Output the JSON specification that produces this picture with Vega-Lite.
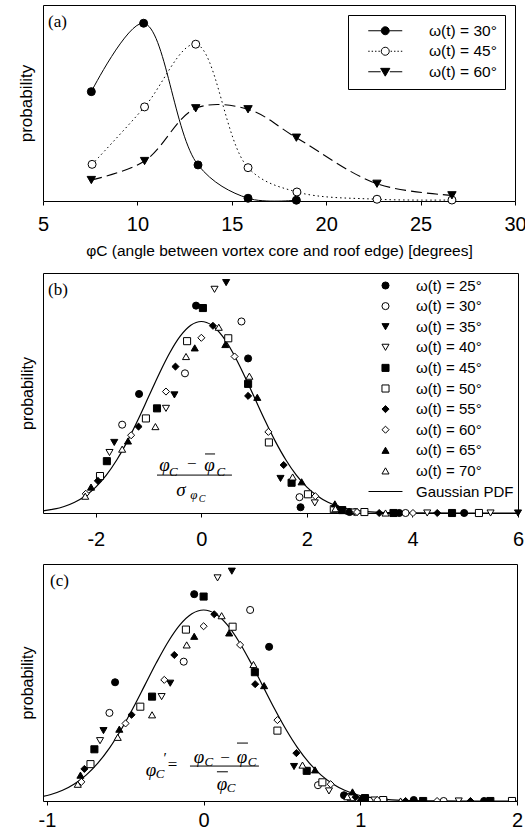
{
  "$schema": "https://vega.github.io/schema/vega-lite/v6.json",
  "padding": {"left": 16, "top": 4, "right": 0, "bottom": 0},
  "spacing": 13,
  "resolve": {"scale": {"shape": "independent", "fill": "independent", "stroke": "independent"}, "legend": {"shape": "independent", "fill": "independent", "stroke": "independent"}},
  "datasets": {
    "a": [
      {"s": "30", "x": 7.56, "p": 0.558}, {"s": "30", "x": 10.33, "p": 0.907}, {"s": "30", "x": 13.21, "p": 0.184}, {"s": "30", "x": 15.86, "p": 0.014}, {"s": "30", "x": 18.42, "p": 0.004},
      {"s": "45", "x": 7.6, "p": 0.187}, {"s": "45", "x": 10.38, "p": 0.48}, {"s": "45", "x": 13.09, "p": 0.8}, {"s": "45", "x": 15.86, "p": 0.17}, {"s": "45", "x": 18.45, "p": 0.046}, {"s": "45", "x": 22.69, "p": 0.009}, {"s": "45", "x": 26.66, "p": 0.005},
      {"s": "60", "x": 7.56, "p": 0.107}, {"s": "60", "x": 10.38, "p": 0.204}, {"s": "60", "x": 13.09, "p": 0.473}, {"s": "60", "x": 15.86, "p": 0.468}, {"s": "60", "x": 18.42, "p": 0.323}, {"s": "60", "x": 22.69, "p": 0.088}, {"s": "60", "x": 26.66, "p": 0.029}
    ],
    "pts": [
      {"s": "25", "xb": -1.18, "xc": -0.565, "p": 0.248}, {"s": "25", "xb": -0.1, "xc": -0.06, "p": 0.432}, {"s": "25", "xb": 0.886, "xc": 0.418, "p": 0.322}, {"s": "25", "xb": 1.88, "xc": 0.896, "p": 0.012}, {"s": "25", "xb": 2.81, "xc": 1.341, "p": 0.002}, {"s": "25", "xb": 3.75, "xc": 1.79, "p": 0.0}, {"s": "25", "xb": 4.98, "xc": null, "p": 0.0},
      {"s": "30", "xb": -1.5, "xc": -0.601, "p": 0.184}, {"s": "30", "xb": -0.31, "xc": -0.127, "p": 0.291}, {"s": "30", "xb": 0.76, "xc": 0.297, "p": 0.399}, {"s": "30", "xb": 1.86, "xc": 0.73, "p": 0.033}, {"s": "30", "xb": 2.92, "xc": 1.15, "p": 0.002}, {"s": "30", "xb": 3.87, "xc": 1.532, "p": 0.0},
      {"s": "35", "xb": -1.65, "xc": -0.639, "p": 0.147}, {"s": "35", "xb": -0.51, "xc": -0.213, "p": 0.246}, {"s": "35", "xb": 0.47, "xc": 0.18, "p": 0.48}, {"s": "35", "xb": 1.5, "xc": 0.577, "p": 0.072}, {"s": "35", "xb": 2.67, "xc": 1.03, "p": 0.006}, {"s": "35", "xb": 6.0, "xc": null, "p": 0.0},
      {"s": "40", "xb": -1.74, "xc": -0.661, "p": 0.126}, {"s": "40", "xb": -0.67, "xc": -0.268, "p": 0.218}, {"s": "40", "xb": 0.25, "xc": 0.089, "p": 0.466}, {"s": "40", "xb": 2.15, "xc": 0.8, "p": 0.021}, {"s": "40", "xb": 2.9, "xc": 1.09, "p": 0.002}, {"s": "40", "xb": 4.28, "xc": 1.628, "p": 0.0}, {"s": "40", "xb": 5.48, "xc": null, "p": 0.0},
      {"s": "45", "xb": -1.79, "xc": -0.697, "p": 0.108}, {"s": "45", "xb": -0.84, "xc": -0.329, "p": 0.218}, {"s": "45", "xb": 0.03, "xc": 0.0, "p": 0.427}, {"s": "45", "xb": 0.886, "xc": 0.327, "p": 0.269}, {"s": "45", "xb": 1.71, "xc": 0.658, "p": 0.063}, {"s": "45", "xb": 2.67, "xc": 1.03, "p": 0.006}, {"s": "45", "xb": 3.64, "xc": 1.401, "p": 0.0}, {"s": "45", "xb": 4.75, "xc": 1.83, "p": 0.0},
      {"s": "50", "xb": -1.92, "xc": -0.722, "p": 0.077}, {"s": "50", "xb": -1.05, "xc": -0.404, "p": 0.197}, {"s": "50", "xb": -0.27, "xc": -0.113, "p": 0.358}, {"s": "50", "xb": 0.51, "xc": 0.185, "p": 0.364}, {"s": "50", "xb": 1.28, "xc": 0.471, "p": 0.147}, {"s": "50", "xb": 2.02, "xc": 0.758, "p": 0.039}, {"s": "50", "xb": 2.51, "xc": 0.94, "p": 0.008}, {"s": "50", "xb": 3.09, "xc": 1.146, "p": 0.002}, {"s": "50", "xb": 5.26, "xc": 1.968, "p": 0.0},
      {"s": "55", "xb": -1.96, "xc": -0.761, "p": 0.067}, {"s": "55", "xb": -1.19, "xc": -0.46, "p": 0.18}, {"s": "55", "xb": -0.49, "xc": -0.187, "p": 0.305}, {"s": "55", "xb": 0.22, "xc": 0.068, "p": 0.39}, {"s": "55", "xb": 0.886, "xc": 0.329, "p": 0.244}, {"s": "55", "xb": 1.56, "xc": 0.592, "p": 0.1}, {"s": "55", "xb": 2.6, "xc": 0.97, "p": 0.008}, {"s": "55", "xb": 3.37, "xc": 1.289, "p": 0.0}, {"s": "55", "xb": 4.47, "xc": 1.703, "p": 0.0},
      {"s": "60", "xb": -2.19, "xc": -0.78, "p": 0.04}, {"s": "60", "xb": -1.33, "xc": -0.498, "p": 0.162}, {"s": "60", "xb": -0.67, "xc": -0.251, "p": 0.253}, {"s": "60", "xb": 0.0, "xc": 0.0, "p": 0.365}, {"s": "60", "xb": 0.63, "xc": 0.233, "p": 0.326}, {"s": "60", "xb": 1.27, "xc": 0.471, "p": 0.169}, {"s": "60", "xb": 2.16, "xc": 0.811, "p": 0.035}, {"s": "60", "xb": 2.95, "xc": 1.108, "p": 0.002}, {"s": "60", "xb": 4.01, "xc": 1.49, "p": 0.0},
      {"s": "65", "xb": -2.09, "xc": -0.786, "p": 0.054}, {"s": "65", "xb": -1.39, "xc": -0.538, "p": 0.15}, {"s": "65", "xb": -0.125, "xc": -0.06, "p": 0.344}, {"s": "65", "xb": 0.455, "xc": 0.163, "p": 0.351}, {"s": "65", "xb": 1.06, "xc": 0.386, "p": 0.241}, {"s": "65", "xb": 1.9, "xc": 0.711, "p": 0.065}, {"s": "65", "xb": 2.53, "xc": 0.95, "p": 0.019}, {"s": "65", "xb": 2.8, "xc": 1.0, "p": 0.004},
      {"s": "70", "xb": -2.2, "xc": -0.803, "p": 0.035}, {"s": "70", "xb": -1.5, "xc": -0.548, "p": 0.133}, {"s": "70", "xb": -0.87, "xc": -0.329, "p": 0.18}, {"s": "70", "xb": -0.29, "xc": -0.108, "p": 0.326}, {"s": "70", "xb": 0.33, "xc": 0.115, "p": 0.387}, {"s": "70", "xb": 0.91, "xc": 0.318, "p": 0.285}, {"s": "70", "xb": 1.73, "xc": 0.631, "p": 0.075}, {"s": "70", "xb": 2.54, "xc": 0.917, "p": 0.009}, {"s": "70", "xb": 3.49, "xc": 1.257, "p": 0.0}
    ],
    "gauss": [
      {"xb": -3.0, "xc": -1.125, "p": 0.00443}, {"xb": -2.8, "xc": -1.05, "p": 0.00792}, {"xb": -2.6, "xc": -0.975, "p": 0.01358}, {"xb": -2.4, "xc": -0.9, "p": 0.02239}, {"xb": -2.2, "xc": -0.825, "p": 0.03547}, {"xb": -2.0, "xc": -0.75, "p": 0.05399}, {"xb": -1.8, "xc": -0.675, "p": 0.07895}, {"xb": -1.6, "xc": -0.6, "p": 0.11092}, {"xb": -1.4, "xc": -0.525, "p": 0.14973}, {"xb": -1.2, "xc": -0.45, "p": 0.19419}, {"xb": -1.0, "xc": -0.375, "p": 0.24197}, {"xb": -0.8, "xc": -0.3, "p": 0.28969}, {"xb": -0.6, "xc": -0.225, "p": 0.33322}, {"xb": -0.4, "xc": -0.15, "p": 0.36827}, {"xb": -0.2, "xc": -0.075, "p": 0.39104}, {"xb": 0.0, "xc": 0.0, "p": 0.39894}, {"xb": 0.2, "xc": 0.075, "p": 0.39104}, {"xb": 0.4, "xc": 0.15, "p": 0.36827}, {"xb": 0.6, "xc": 0.225, "p": 0.33322}, {"xb": 0.8, "xc": 0.3, "p": 0.28969}, {"xb": 1.0, "xc": 0.375, "p": 0.24197}, {"xb": 1.2, "xc": 0.45, "p": 0.19419}, {"xb": 1.4, "xc": 0.525, "p": 0.14973}, {"xb": 1.6, "xc": 0.6, "p": 0.11092}, {"xb": 1.8, "xc": 0.675, "p": 0.07895}, {"xb": 2.0, "xc": 0.75, "p": 0.05399}, {"xb": 2.2, "xc": 0.825, "p": 0.03547}, {"xb": 2.4, "xc": 0.9, "p": 0.02239}, {"xb": 2.6, "xc": 0.975, "p": 0.01358}, {"xb": 2.8, "xc": 1.05, "p": 0.00792}, {"xb": 3.0, "xc": 1.125, "p": 0.00443}, {"xb": 3.2, "xc": 1.2, "p": 0.00238}, {"xb": 3.4, "xc": 1.275, "p": 0.00123}, {"xb": 3.6, "xc": 1.35, "p": 0.00061}, {"xb": 4.0, "xc": 1.5, "p": 0.00013}, {"xb": 5.0, "xc": 1.875, "p": 0.0}, {"xb": 6.0, "xc": 2.25, "p": 0.0}
    ]
  },
  "vconcat": [
    {
      "width": 472, "height": 196,
      "layer": [
        {
          "data": {"name": "a"},
          "transform": [{"filter": "datum.s === '30'"}],
          "mark": {"type": "line", "interpolate": "catmull-rom", "color": "black", "strokeWidth": 1, "clip": true},
          "encoding": {
            "x": {"field": "x", "type": "quantitative", "scale": {"domain": [5, 30], "nice": false, "zero": false},
                  "axis": {"values": [5, 10, 15, 20, 25, 30], "labelExpr": "'' + datum.value", "labelFlush": false, "labelOverlap": false, "tickSize": 4, "labelPadding": 9, "labelFontSize": 20, "domain": false, "title": "φC (angle between vortex core and roof edge) [degrees]", "titleFontSize": 15.5, "titlePadding": 9}},
            "y": {"field": "p", "type": "quantitative", "scale": {"domain": [0, 1], "nice": false},
                  "axis": {"title": "probability", "labels": false, "ticks": false, "domain": false, "titleFontSize": 17, "titlePadding": 8}}
          }
        },
        {
          "data": {"name": "a"},
          "transform": [{"filter": "datum.s === '45'"}],
          "mark": {"type": "line", "interpolate": "catmull-rom", "color": "black", "strokeWidth": 1, "strokeDash": [1.5, 3], "clip": true},
          "encoding": {"x": {"field": "x", "type": "quantitative"}, "y": {"field": "p", "type": "quantitative"}}
        },
        {
          "data": {"name": "a"},
          "transform": [{"filter": "datum.s === '60'"}],
          "mark": {"type": "line", "interpolate": "catmull-rom", "color": "black", "strokeWidth": 1.1, "strokeDash": [11, 5], "clip": true},
          "encoding": {"x": {"field": "x", "type": "quantitative"}, "y": {"field": "p", "type": "quantitative"}}
        },
        {
          "data": {"name": "a"},
          "transform": [{"filter": "datum.s === '30'"}],
          "mark": {"type": "point", "shape": "circle", "filled": true, "fill": "black", "size": 64, "stroke": "black", "strokeWidth": 1, "opacity": 1},
          "encoding": {"x": {"field": "x", "type": "quantitative"}, "y": {"field": "p", "type": "quantitative"}}
        },
        {
          "data": {"name": "a"},
          "transform": [{"filter": "datum.s === '45'"}],
          "mark": {"type": "point", "shape": "circle", "filled": true, "fill": "white", "size": 64, "stroke": "black", "strokeWidth": 1, "opacity": 1},
          "encoding": {"x": {"field": "x", "type": "quantitative"}, "y": {"field": "p", "type": "quantitative"}}
        },
        {
          "data": {"name": "a"},
          "transform": [{"filter": "datum.s === '60'"}],
          "mark": {"type": "point", "shape": "triangle-down", "filled": true, "fill": "black", "size": 70, "stroke": "black", "strokeWidth": 1, "opacity": 1},
          "encoding": {"x": {"field": "x", "type": "quantitative"}, "y": {"field": "p", "type": "quantitative"}}
        },
        {
          "data": {"name": "a"},
          "mark": {"type": "point", "filled": true, "size": 64, "opacity": 0, "strokeWidth": 1},
          "encoding": {
            "x": {"field": "x", "type": "quantitative"},
            "y": {"field": "p", "type": "quantitative"},
            "shape": {"field": "s", "type": "nominal",
              "scale": {"domain": ["30", "45", "60"], "range": [
                "M-4.25,0H-1M1,0H4.25M1,0A1,1,0,1,1,-1,0A1,1,0,1,1,1,0Z",
                "M-4.25,0h0.35M-3.4,0h0.35M-2.55,0h0.35M-1.7,0h0.35M1.35,0h0.35M2.2,0h0.35M3.05,0h0.35M3.9,0h0.35M1,0A1,1,0,1,1,-1,0A1,1,0,1,1,1,0Z",
                "M-4.25,0H-1.15M1.15,0H4.25M-1.15,-0.85L1.15,-0.85L0,1.1Z"]},
              "legend": {"title": null, "orient": "top-right", "offset": 10, "padding": 8, "strokeColor": "black", "fillColor": "white", "labelFont": "Liberation Sans", "labelFontSize": 15.5, "labelColor": "black", "symbolSize": 64, "symbolOpacity": 1, "symbolStrokeWidth": 1, "symbolOffset": 21.5, "labelOffset": 36, "rowPadding": 3.5,
                "labelExpr": "'ω(t) = ' + datum.label + '°\u00a0\u00a0'"}},
            "fill": {"field": "s", "type": "nominal", "scale": {"domain": ["30", "45", "60"], "range": ["black", "white", "black"]},
              "legend": {"title": null, "orient": "top-right", "offset": 10, "padding": 8, "strokeColor": "black", "fillColor": "white", "labelFont": "Liberation Sans", "labelFontSize": 15.5, "labelColor": "black", "symbolSize": 64, "symbolOpacity": 1, "symbolStrokeWidth": 1, "symbolOffset": 21.5, "labelOffset": 36, "rowPadding": 3.5,
                "labelExpr": "'ω(t) = ' + datum.label + '°\u00a0\u00a0'"}},
            "stroke": {"field": "s", "type": "nominal", "scale": {"domain": ["30", "45", "60"], "range": ["black", "black", "black"]},
              "legend": {"title": null, "orient": "top-right", "offset": 10, "padding": 8, "strokeColor": "black", "fillColor": "white", "labelFont": "Liberation Sans", "labelFontSize": 15.5, "labelColor": "black", "symbolSize": 64, "symbolOpacity": 1, "symbolStrokeWidth": 1, "symbolOffset": 21.5, "labelOffset": 36, "rowPadding": 3.5,
                "labelExpr": "'ω(t) = ' + datum.label + '°\u00a0\u00a0'"}}
          }
        },
        {
          "data": {"values": [{}]},
          "mark": {"type": "text", "text": "(a)", "font": "Liberation Serif", "fontSize": 17, "align": "left", "baseline": "middle", "color": "black", "fill": "black"},
          "encoding": {"x": {"datum": 5.265}, "y": {"datum": 0.913}}
        }
      ]
    },
    {
      "width": 475, "height": 240,
      "layer": [
        {
          "data": {"name": "gauss"},
          "mark": {"type": "line", "interpolate": "monotone", "color": "black", "strokeWidth": 1.2, "clip": true},
          "encoding": {
            "x": {"field": "xb", "type": "quantitative", "scale": {"domain": [-3, 6], "nice": false, "zero": false},
                  "axis": {"values": [-2, 0, 2, 4, 6], "labelExpr": "'' + datum.value", "labelFlush": false, "labelOverlap": false, "tickSize": 4, "labelPadding": 12.5, "labelFontSize": 20, "domain": false, "title": null}},
            "y": {"field": "p", "type": "quantitative", "scale": {"domain": [0, 0.5], "nice": false},
                  "axis": {"title": "probability", "labels": false, "ticks": false, "domain": false, "titleFontSize": 16, "titlePadding": 8}}
          }
        },
        {
          "data": {"name": "pts"},
          "mark": {"type": "point", "filled": true, "size": 50, "strokeWidth": 1, "opacity": 1},
          "encoding": {
            "x": {"field": "xb", "type": "quantitative"},
            "y": {"field": "p", "type": "quantitative"},
            "shape": {"field": "s", "type": "nominal",
              "scale": {"domain": ["25", "30", "35", "40", "45", "50", "55", "60", "65", "70", "Gaussian PDF"], "range": ["circle", "circle", "triangle-down", "triangle-down", "square", "square", "diamond", "diamond", "triangle-up", "triangle-up", "M-4.8,0H4.8"]},
              "legend": {"title": null, "orient": "top-right", "offset": 4.5, "padding": 0, "labelFont": "Liberation Sans", "labelFontSize": 15, "labelColor": "black", "symbolSize": 50, "symbolOffset": 14, "labelOffset": 23, "rowPadding": 4.6, "symbolStrokeWidth": 1, "symbolOpacity": 1,
                "labelExpr": "datum.label === 'Gaussian PDF' ? 'Gaussian PDF\u00a0\u00a0' : 'ω(t) = ' + datum.label + '°'"}},
            "fill": {"field": "s", "type": "nominal",
              "scale": {"domain": ["25", "30", "35", "40", "45", "50", "55", "60", "65", "70", "Gaussian PDF"], "range": ["black", "white", "black", "white", "black", "white", "black", "white", "black", "white", "white"]},
              "legend": {"title": null, "orient": "top-right", "offset": 4.5, "padding": 0, "labelFont": "Liberation Sans", "labelFontSize": 15, "labelColor": "black", "symbolSize": 50, "symbolOffset": 14, "labelOffset": 23, "rowPadding": 4.6, "symbolStrokeWidth": 1, "symbolOpacity": 1,
                "labelExpr": "datum.label === 'Gaussian PDF' ? 'Gaussian PDF\u00a0\u00a0' : 'ω(t) = ' + datum.label + '°'"}},
            "stroke": {"field": "s", "type": "nominal",
              "scale": {"domain": ["25", "30", "35", "40", "45", "50", "55", "60", "65", "70", "Gaussian PDF"], "range": ["black", "black", "black", "black", "black", "black", "black", "black", "black", "black", "black"]},
              "legend": {"title": null, "orient": "top-right", "offset": 4.5, "padding": 0, "labelFont": "Liberation Sans", "labelFontSize": 15, "labelColor": "black", "symbolSize": 50, "symbolOffset": 14, "labelOffset": 23, "rowPadding": 4.6, "symbolStrokeWidth": 1, "symbolOpacity": 1,
                "labelExpr": "datum.label === 'Gaussian PDF' ? 'Gaussian PDF\u00a0\u00a0' : 'ω(t) = ' + datum.label + '°'"}}
          }
        },
        {"data": {"values": [{}]}, "mark": {"type": "text", "text": "(b)", "font": "Liberation Serif", "fontSize": 17, "align": "left", "baseline": "middle", "color": "black", "fill": "black"}, "encoding": {"x": {"datum": -2.905}, "y": {"datum": 0.465}}},
        {"data": {"values": [{}]}, "mark": {"type": "text", "text": "φ", "font": "Liberation Serif", "fontStyle": "italic", "fontSize": 19, "align": "center", "baseline": "middle", "color": "black", "fill": "black"}, "encoding": {"x": {"datum": -0.7}, "y": {"datum": 0.1}}},
        {"data": {"values": [{}]}, "mark": {"type": "text", "text": "C", "font": "Liberation Serif", "fontStyle": "italic", "fontSize": 13, "align": "center", "baseline": "middle", "color": "black", "fill": "black"}, "encoding": {"x": {"datum": -0.53}, "y": {"datum": 0.085}}},
        {"data": {"values": [{}]}, "mark": {"type": "text", "text": "−", "font": "Liberation Serif", "fontSize": 17, "align": "center", "baseline": "middle", "color": "black", "fill": "black"}, "encoding": {"x": {"datum": -0.18}, "y": {"datum": 0.102}}},
        {"data": {"values": [{}]}, "mark": {"type": "text", "text": "φ", "font": "Liberation Serif", "fontStyle": "italic", "fontSize": 19, "align": "center", "baseline": "middle", "color": "black", "fill": "black"}, "encoding": {"x": {"datum": 0.155}, "y": {"datum": 0.1}}},
        {"data": {"values": [{}]}, "mark": {"type": "rule", "color": "black", "strokeWidth": 1}, "encoding": {"x": {"datum": 0.07}, "x2": {"datum": 0.26}, "y": {"datum": 0.123}}},
        {"data": {"values": [{}]}, "mark": {"type": "text", "text": "C", "font": "Liberation Serif", "fontStyle": "italic", "fontSize": 13, "align": "center", "baseline": "middle", "color": "black", "fill": "black"}, "encoding": {"x": {"datum": 0.37}, "y": {"datum": 0.085}}},
        {"data": {"values": [{}]}, "mark": {"type": "rule", "color": "black", "strokeWidth": 1}, "encoding": {"x": {"datum": -0.84}, "x2": {"datum": 0.58}, "y": {"datum": 0.079}}},
        {"data": {"values": [{}]}, "mark": {"type": "text", "text": "σ", "font": "Liberation Serif", "fontStyle": "italic", "fontSize": 19, "align": "center", "baseline": "middle", "color": "black", "fill": "black"}, "encoding": {"x": {"datum": -0.385}, "y": {"datum": 0.048}}},
        {"data": {"values": [{}]}, "mark": {"type": "text", "text": "φ", "font": "Liberation Serif", "fontStyle": "italic", "fontSize": 13, "align": "center", "baseline": "middle", "color": "black", "fill": "black"}, "encoding": {"x": {"datum": -0.14}, "y": {"datum": 0.0375}}},
        {"data": {"values": [{}]}, "mark": {"type": "text", "text": "C", "font": "Liberation Serif", "fontStyle": "italic", "fontSize": 10, "align": "center", "baseline": "middle", "color": "black", "fill": "black"}, "encoding": {"x": {"datum": 0.013}, "y": {"datum": 0.029}}}
      ]
    },
    {
      "width": 474, "height": 237,
      "layer": [
        {
          "data": {"name": "gauss"},
          "mark": {"type": "line", "interpolate": "monotone", "color": "black", "strokeWidth": 1.2, "clip": true},
          "encoding": {
            "x": {"field": "xc", "type": "quantitative", "scale": {"domain": [-1.025, 2], "nice": false, "zero": false},
                  "axis": {"values": [-1, 0, 1, 2], "labelExpr": "'' + datum.value", "labelFlush": false, "labelOverlap": false, "tickSize": 4, "labelPadding": 5, "labelFontSize": 20, "domain": false, "title": null}},
            "y": {"field": "p", "type": "quantitative", "scale": {"domain": [0, 0.495], "nice": false},
                  "axis": {"title": "probability", "labels": false, "ticks": false, "domain": false, "titleFontSize": 16, "titlePadding": 8}}
          }
        },
        {
          "data": {"name": "pts"},
          "transform": [{"filter": "isValid(datum.xc)"}],
          "mark": {"type": "point", "filled": true, "size": 50, "stroke": "black", "strokeWidth": 1, "opacity": 1, "clip": true},
          "encoding": {
            "x": {"field": "xc", "type": "quantitative"},
            "y": {"field": "p", "type": "quantitative"},
            "shape": {"field": "s", "type": "nominal",
              "scale": {"domain": ["25", "30", "35", "40", "45", "50", "55", "60", "65", "70"], "range": ["circle", "circle", "triangle-down", "triangle-down", "square", "square", "diamond", "diamond", "triangle-up", "triangle-up"]}, "legend": null},
            "fill": {"field": "s", "type": "nominal",
              "scale": {"domain": ["25", "30", "35", "40", "45", "50", "55", "60", "65", "70"], "range": ["black", "white", "black", "white", "black", "white", "black", "white", "black", "white"]}, "legend": null}
          }
        },
        {"data": {"values": [{}]}, "mark": {"type": "text", "text": "(c)", "font": "Liberation Serif", "fontSize": 17, "align": "left", "baseline": "middle", "color": "black", "fill": "black"}, "encoding": {"x": {"datum": -0.98}, "y": {"datum": 0.459}}},
        {"data": {"values": [{}]}, "mark": {"type": "text", "text": "φ", "font": "Liberation Serif", "fontStyle": "italic", "fontSize": 19, "align": "center", "baseline": "middle", "color": "black", "fill": "black"}, "encoding": {"x": {"datum": -0.336}, "y": {"datum": 0.065}}},
        {"data": {"values": [{}]}, "mark": {"type": "text", "text": "C", "font": "Liberation Serif", "fontStyle": "italic", "fontSize": 13, "align": "center", "baseline": "middle", "color": "black", "fill": "black"}, "encoding": {"x": {"datum": -0.278}, "y": {"datum": 0.056}}},
        {"data": {"values": [{}]}, "mark": {"type": "text", "text": "′", "font": "Liberation Serif", "fontSize": 15, "align": "center", "baseline": "middle", "color": "black", "fill": "black"}, "encoding": {"x": {"datum": -0.246}, "y": {"datum": 0.09}}},
        {"data": {"values": [{}]}, "mark": {"type": "text", "text": "=", "font": "Liberation Serif", "fontSize": 17, "align": "center", "baseline": "middle", "color": "black", "fill": "black"}, "encoding": {"x": {"datum": -0.199}, "y": {"datum": 0.075}}},
        {"data": {"values": [{}]}, "mark": {"type": "text", "text": "φ", "font": "Liberation Serif", "fontStyle": "italic", "fontSize": 19, "align": "center", "baseline": "middle", "color": "black", "fill": "black"}, "encoding": {"x": {"datum": -0.029}, "y": {"datum": 0.092}}},
        {"data": {"values": [{}]}, "mark": {"type": "text", "text": "C", "font": "Liberation Serif", "fontStyle": "italic", "fontSize": 13, "align": "center", "baseline": "middle", "color": "black", "fill": "black"}, "encoding": {"x": {"datum": 0.034}, "y": {"datum": 0.081}}},
        {"data": {"values": [{}]}, "mark": {"type": "text", "text": "−", "font": "Liberation Serif", "fontSize": 17, "align": "center", "baseline": "middle", "color": "black", "fill": "black"}, "encoding": {"x": {"datum": 0.136}, "y": {"datum": 0.09}}},
        {"data": {"values": [{}]}, "mark": {"type": "text", "text": "φ", "font": "Liberation Serif", "fontStyle": "italic", "fontSize": 19, "align": "center", "baseline": "middle", "color": "black", "fill": "black"}, "encoding": {"x": {"datum": 0.245}, "y": {"datum": 0.092}}},
        {"data": {"values": [{}]}, "mark": {"type": "rule", "color": "black", "strokeWidth": 1}, "encoding": {"x": {"datum": 0.213}, "x2": {"datum": 0.283}, "y": {"datum": 0.121}}},
        {"data": {"values": [{}]}, "mark": {"type": "text", "text": "C", "font": "Liberation Serif", "fontStyle": "italic", "fontSize": 13, "align": "center", "baseline": "middle", "color": "black", "fill": "black"}, "encoding": {"x": {"datum": 0.309}, "y": {"datum": 0.081}}},
        {"data": {"values": [{}]}, "mark": {"type": "rule", "color": "black", "strokeWidth": 1}, "encoding": {"x": {"datum": -0.087}, "x2": {"datum": 0.353}, "y": {"datum": 0.073}}},
        {"data": {"values": [{}]}, "mark": {"type": "rule", "color": "black", "strokeWidth": 1}, "encoding": {"x": {"datum": 0.085}, "x2": {"datum": 0.155}, "y": {"datum": 0.061}}},
        {"data": {"values": [{}]}, "mark": {"type": "text", "text": "φ", "font": "Liberation Serif", "fontStyle": "italic", "fontSize": 19, "align": "center", "baseline": "middle", "color": "black", "fill": "black"}, "encoding": {"x": {"datum": 0.117}, "y": {"datum": 0.036}}},
        {"data": {"values": [{}]}, "mark": {"type": "text", "text": "C", "font": "Liberation Serif", "fontStyle": "italic", "fontSize": 13, "align": "center", "baseline": "middle", "color": "black", "fill": "black"}, "encoding": {"x": {"datum": 0.175}, "y": {"datum": 0.027}}}
      ]
    }
  ],
  "config": {
    "view": {"stroke": "black", "strokeWidth": 1},
    "axis": {"grid": false, "labelFont": "Liberation Sans", "titleFont": "Liberation Sans", "labelColor": "black", "titleColor": "black", "tickColor": "black", "domainColor": "black", "titleFontWeight": "normal"},
    "legend": {"labelFont": "Liberation Sans", "labelColor": "black"}
  }
}
